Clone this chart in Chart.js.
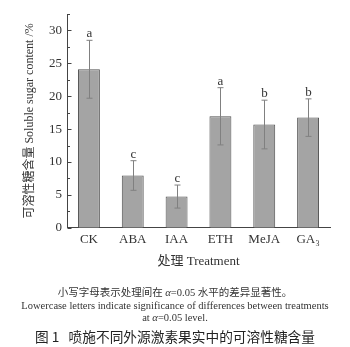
<!DOCTYPE html>
<html>
<head>
<meta charset="utf-8">
<script src="https://cdn.jsdelivr.net/npm/chart.js@4"></script>
<style>
  body { margin: 0; background: #fff; }
  #wrap { position: relative; width: 350px; height: 347px; }
  .note { position: absolute; left: 0; width: 350px; text-align: center; color: #333;
          font-family: "Liberation Serif", "Noto Sans CJK SC", serif; font-size: 10.5px; line-height: 12.7px; }
  .fig { position: absolute; left: 0; width: 350px; text-align: center; color: #222;
         font-family: "Noto Sans CJK SC", sans-serif; font-size: 13.7px; }
</style>
</head>
<body>
<div id="wrap">
  <canvas id="chartSugar" width="350" height="347"></canvas>
  <div class="note" style="top:287px">小写字母表示处理间在 <i>α</i>=0.05 水平的差异显著性。<br>Lowercase letters indicate significance of differences between treatments<br>at <i>α</i>=0.05 level.</div>
  <div class="fig" style="top:326px">图 1&nbsp;&nbsp;&nbsp;喷施不同外源激素果实中的可溶性糖含量</div>
</div>
<script>
const categories = ['CK', 'ABA', 'IAA', 'ETH', 'MeJA', 'GA₃'];
const means = [24.1, 7.95, 4.75, 16.95, 15.7, 16.75];
const errors = [4.4, 2.25, 1.75, 4.35, 3.7, 2.85];
const letters = ['a', 'c', 'c', 'a', 'b', 'b'];

const serif = '"Liberation Serif", "Noto Sans CJK SC", serif';

// error bars, letters and inward ticks
const extras = {
  id: 'extras',
  afterDatasetsDraw(chart) {
    const ctx = chart.ctx;
    const x = chart.scales.x, y = chart.scales.y;
    ctx.save();
    ctx.strokeStyle = '#808080';
    ctx.lineWidth = 1;
    means.forEach((m, i) => {
      const px = Math.round(x.getPixelForValue(i)) + 0.5;
      const top = y.getPixelForValue(m + errors[i]);
      const bot = y.getPixelForValue(m - errors[i]);
      ctx.beginPath();
      ctx.moveTo(px, top); ctx.lineTo(px, bot);
      ctx.moveTo(px - 3, top); ctx.lineTo(px + 3, top);
      ctx.moveTo(px - 3, bot); ctx.lineTo(px + 3, bot);
      ctx.stroke();
      ctx.fillStyle = '#333';
      ctx.font = '13px ' + serif;
      ctx.textAlign = 'center';
      ctx.textBaseline = 'alphabetic';
      ctx.fillText(letters[i], px, top - 3);
    });
    // y ticks pointing inward
    ctx.strokeStyle = '#444';
    const ax = y.right + 0.5;
    for (let v = 0; v <= y.max + 0.01; v += 2.5) {
      const py = Math.round(y.getPixelForValue(v)) + 0.5;
      const len = (v % 5 === 0) ? 4 : 2.5;
      ctx.beginPath();
      ctx.moveTo(ax, py); ctx.lineTo(ax + len, py);
      ctx.stroke();
    }
    ctx.restore();
  }
};

new Chart(document.getElementById('chartSugar'), {
  type: 'bar',
  data: {
    labels: categories,
    datasets: [{
      data: means,
      backgroundColor: '#a4a4a4',
      borderColor: '#505050',
      borderWidth: 1,
      barPercentage: 0.5,
      categoryPercentage: 1
    }]
  },
  options: {
    responsive: false,
    animation: false,
    layout: { padding: { left: 23, right: 20, top: 14, bottom: 78 } },
    plugins: { legend: { display: false }, tooltip: { enabled: false } },
    scales: {
      x: {
        grid: { display: false, drawTicks: false },
        border: { display: true, color: '#444' },
        ticks: { color: '#333', padding: 4, font: { family: serif, size: 13 } },
        title: { display: true, text: '处理 Treatment', color: '#333', padding: { top: 2, bottom: 0 },
                 font: { family: serif, size: 13 } }
      },
      y: {
        min: 0,
        max: 32.5,
        grid: { display: false, drawTicks: false },
        border: { display: true, color: '#444' },
        ticks: { stepSize: 5, includeBounds: false, color: '#333', padding: 5, font: { family: serif, size: 13 } },
        title: { display: true, text: '可溶性糖含量 Soluble sugar content /%', color: '#333', padding: 0,
                 font: { family: serif, size: 12 } },
        afterFit(scale) { scale.width = 44; }
      }
    }
  },
  plugins: [extras]
});
</script>
</body>
</html>
